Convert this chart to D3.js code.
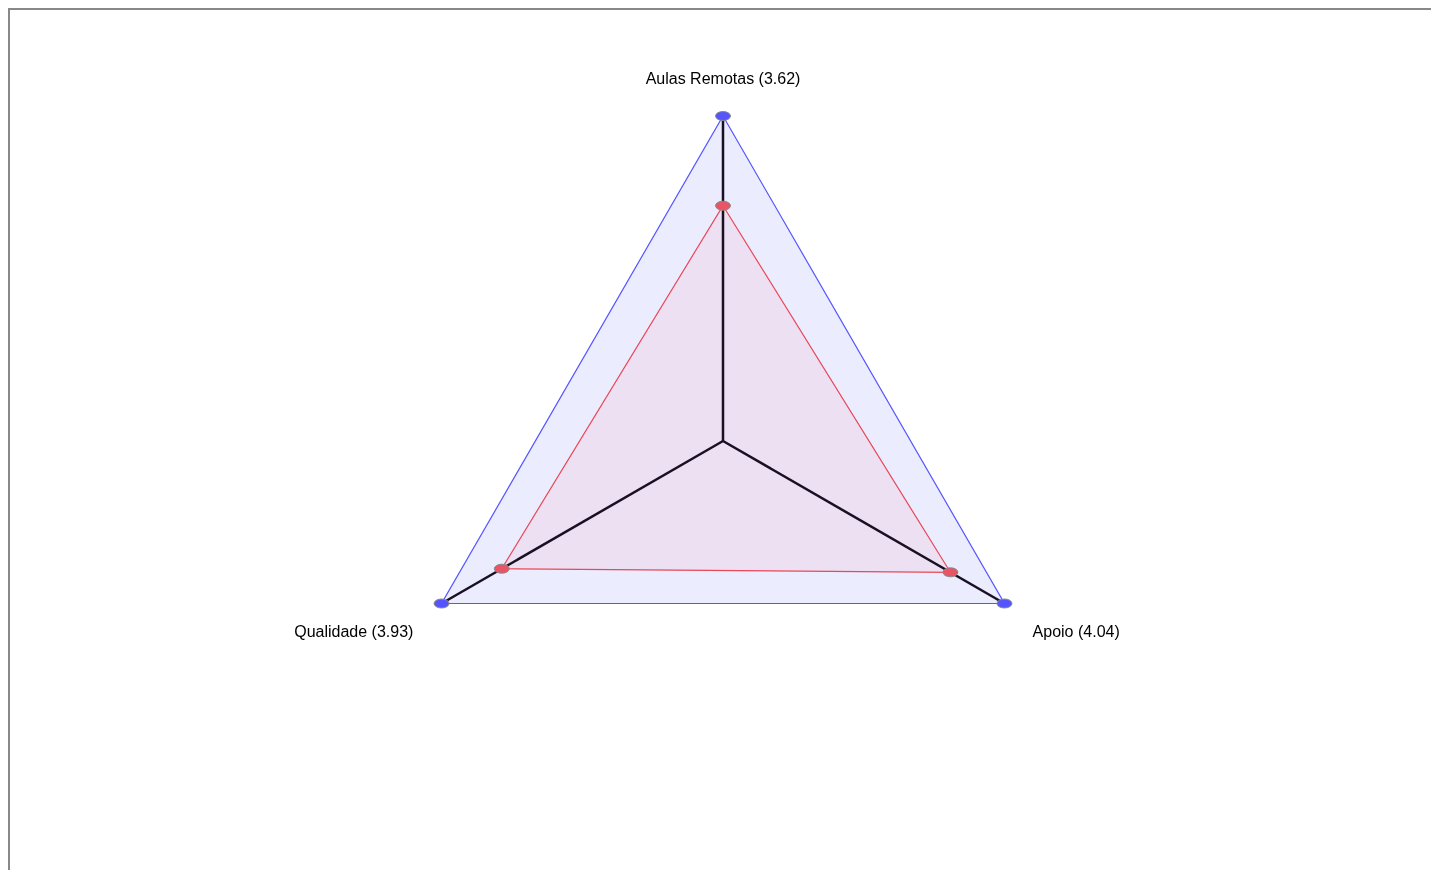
<!DOCTYPE html>
<html>
<head>
<meta charset="utf-8">
<script src="https://cdn.jsdelivr.net/npm/d3@7"></script>
<style>
  html, body { overflow: hidden; margin: 0; background: #fff; }
  #radar { position: fixed; left: 8px; top: 8px; width: 2000px; height: 2000px;
           border-left: 2px solid #888; border-top: 2px solid #888; }
  svg { display: block; }
  text { font-family: "Liberation Sans", Arial, sans-serif; font-size: 16px; fill: #000; }
</style>
</head>
<body>
<div id="radar"></div>
<script>
// data
const axes = ["Aulas Remotas", "Apoio", "Qualidade"];
const values = [3.62, 4.04, 3.93];
const maxValues = [5, 5, 5];
const maxScore = 5;

const w = 1500, h = 900;
const cx = 713, cy = 431, radius = 325;

const svg = d3.select("#radar").append("svg")
  .attr("width", w)
  .attr("height", h);

const g = svg.append("g").attr("transform", "translate(" + cx + "," + cy + ")");

const r = d3.scaleLinear().domain([0, maxScore]).range([0, radius]);
const angle = i => i * 2 * Math.PI / axes.length; // 0 = up, clockwise

function pt(v, i) {
  return [r(v) * Math.sin(angle(i)), -r(v) * Math.cos(angle(i))];
}

const line = d3.line().curve(d3.curveLinearClosed);

// outer (max) polygon
g.append("path")
  .attr("d", line(maxValues.map(pt)))
  .attr("fill", "#5555ff")
  .attr("fill-opacity", 0.11)
  .attr("stroke", "#5555ff")
  .attr("stroke-width", 1.2);

// score polygon
g.append("path")
  .attr("d", line(values.map(pt)))
  .attr("fill", "#e84858")
  .attr("fill-opacity", 0.08)
  .attr("stroke", "#e84858")
  .attr("stroke-width", 1.2);

// axis lines
g.selectAll(".axis")
  .data(axes)
  .enter().append("line")
  .attr("x1", 0).attr("y1", 0)
  .attr("x2", (d, i) => pt(maxScore, i)[0])
  .attr("y2", (d, i) => pt(maxScore, i)[1])
  .attr("stroke", "#1a1024")
  .attr("stroke-width", 2.5);

// max dots
g.selectAll(".maxdot")
  .data(maxValues)
  .enter().append("ellipse")
  .attr("cx", (d, i) => pt(d, i)[0])
  .attr("cy", (d, i) => pt(d, i)[1])
  .attr("rx", 7.5).attr("ry", 4.5)
  .attr("fill", "#5555ff")
  .attr("stroke", "#888")
  .attr("stroke-width", 1);

// value dots
g.selectAll(".valdot")
  .data(values)
  .enter().append("ellipse")
  .attr("cx", (d, i) => pt(d, i)[0])
  .attr("cy", (d, i) => pt(d, i)[1])
  .attr("rx", 7.5).attr("ry", 4.5)
  .attr("fill", "#e85565")
  .attr("stroke", "#888")
  .attr("stroke-width", 1);

// labels
g.selectAll(".label")
  .data(axes)
  .enter().append("text")
  .attr("x", (d, i) => pt(maxScore * 1.1, i)[0])
  .attr("y", (d, i) => pt(maxScore * 1.1, i)[1])
  .attr("dy", (d, i) => i == 0 ? 0 : 17)
  .attr("text-anchor", (d, i) => {
    var x = pt(maxScore, i)[0];
    return Math.abs(x) < 1 ? "middle" : (x > 0 ? "start" : "end");
  })
  .text((d, i) => d + " (" + values[i].toFixed(2) + ")");
</script>
</body>
</html>
